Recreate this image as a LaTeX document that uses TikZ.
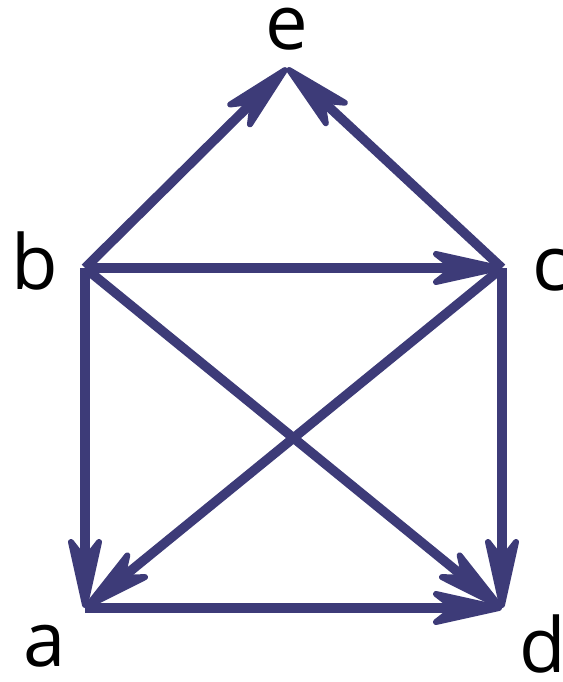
\documentclass[tikz,border=0pt]{standalone}
\usepackage{fontspec}
\setmainfont{Open Sans}
\usetikzlibrary{decorations.markings}
\definecolor{edgecol}{HTML}{3D3B78}
\tikzset{
  edge/.style={draw=edgecol,line width=9.5pt,shorten >=30pt},
  headmark/.style={decorate,decoration={markings,mark=at position 1 with {%
    \filldraw[edgecol,line width=6pt,line join=round]
      (-3pt,0pt) -- (-66pt,14pt) -- (-48pt,0pt) -- (-66pt,-14pt) -- cycle;}}},
  lbl/.style={font=\fontsize{76}{80}\selectfont,inner sep=0pt}
}
\newcommand\edgearrow[2]{%
  \draw[edge] (#1) -- (#2);
  \path[headmark] (#1) -- (#2);}
\begin{document}
\begin{tikzpicture}[x=1pt,y=-1pt]
\useasboundingbox (0,0) rectangle (562,682);
\coordinate (e) at (287,68);
\coordinate (b) at (85,268);
\coordinate (c) at (502,268);
\coordinate (a) at (85,608);
\coordinate (d) at (502,608);
\node[lbl] (le) at (287,29) {e};
\node[lbl] (lb) at (35,261) {b};
\node[lbl] (lc) at (551,270) {c};
\node[lbl] (la) at (45,646) {a};
\node[lbl] (ld) at (543,644) {d};
\edgearrow{b}{e}
\edgearrow{c}{e}
\edgearrow{b}{c}
\edgearrow{b}{a}
\edgearrow{b}{d}
\edgearrow{c}{a}
\edgearrow{c}{d}
\edgearrow{a}{d}
\end{tikzpicture}
\end{document}
